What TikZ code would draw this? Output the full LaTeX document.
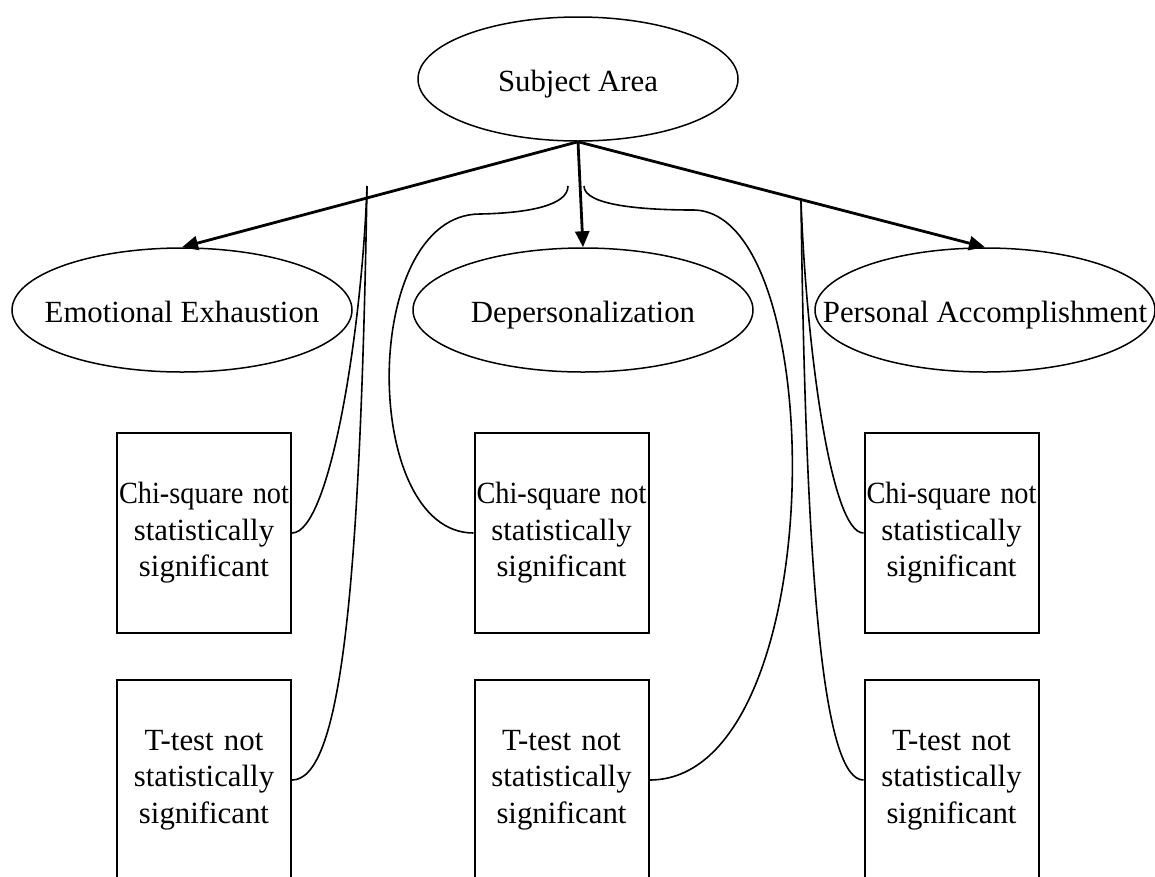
\documentclass[tikz,border=0pt]{standalone}
\usepackage{fontspec}
\setmainfont{Liberation Serif}
\usetikzlibrary{shapes.geometric,arrows.meta}
\newcommand{\squeezeline}[1]{\scalebox{0.92}[1]{#1}}
\newcommand{\ovaltext}[1]{\makebox[0pt]{\raisebox{-12pt}[0pt][0pt]{#1}}}
\begin{document}
\begin{tikzpicture}[x=1pt,y=-1pt,
  every node/.style={font=\fontsize{30.8}{36.5}\selectfont},
  oval/.style={draw, ellipse, line width=1.5pt, inner sep=0pt, minimum width=340pt, minimum height=124pt},
  topoval/.style={oval, minimum width=320pt},
  box/.style={draw, rectangle, line width=2pt, text width=174pt, minimum height=200pt, align=center, inner sep=0pt},
  arr/.style={line width=2.8pt, -{Triangle[length=16pt,width=14pt]}},
  link/.style={line width=1.6pt}]
\useasboundingbox (0,0) rectangle (1155,876);
\fill[white] (0,0) rectangle (1155,876);
\clip (0,0) rectangle (1155,876);

\node[topoval] (sa) at (578,79) {\ovaltext{Subject Area}};
\node[oval] (ee) at (182,310) {\ovaltext{Emotional Exhaustion}};
\node[oval] (dp) at (583,310) {\ovaltext{Depersonalization}};
\node[oval] (pa) at (985,310) {\ovaltext{Personal Accomplishment}};

\node[box] (eechi) at (204,533) {\squeezeline{Chi-square not}\\statistically\\significant};
\node[box] (eet) at (204,780) {T-test not\\statistically\\significant};
\node[box] (dpchi) at (561.5,533) {\squeezeline{Chi-square not}\\statistically\\significant};
\node[box] (dpt) at (561.5,780) {T-test not\\statistically\\significant};
\node[box] (pachi) at (951.5,533) {\squeezeline{Chi-square not}\\statistically\\significant};
\node[box] (pat) at (951.5,780) {T-test not\\statistically\\significant};

\draw[arr] (sa.south) -- (ee.north);
\draw[arr] (sa.south) -- (dp.north);
\draw[arr] (sa.south) -- (pa.north);

\coordinate (lt) at (367,186);
\coordinate (mlt) at (568,186);
\coordinate (mrt) at (584,186);
\coordinate (rt) at (801,201);

\draw[link] (lt) .. controls (362,330) and (330,533) .. (eechi.east);
\draw[link] (lt) .. controls (360,600) and (340,780) .. (eet.east);
\draw[link] (mlt) .. controls (568,205) and (530,213) .. (480,214)
  .. controls (360,214) and (360,533) .. (dpchi.west);
\draw[link] (mrt) .. controls (584,205) and (640,210) .. (693,210)
  .. controls (832,210) and (832,780) .. (dpt.east);
\draw[link] (rt) .. controls (806,340) and (830,533) .. (pachi.west);
\draw[link] (rt) .. controls (806,600) and (825,780) .. (pat.west);
\end{tikzpicture}
\end{document}
